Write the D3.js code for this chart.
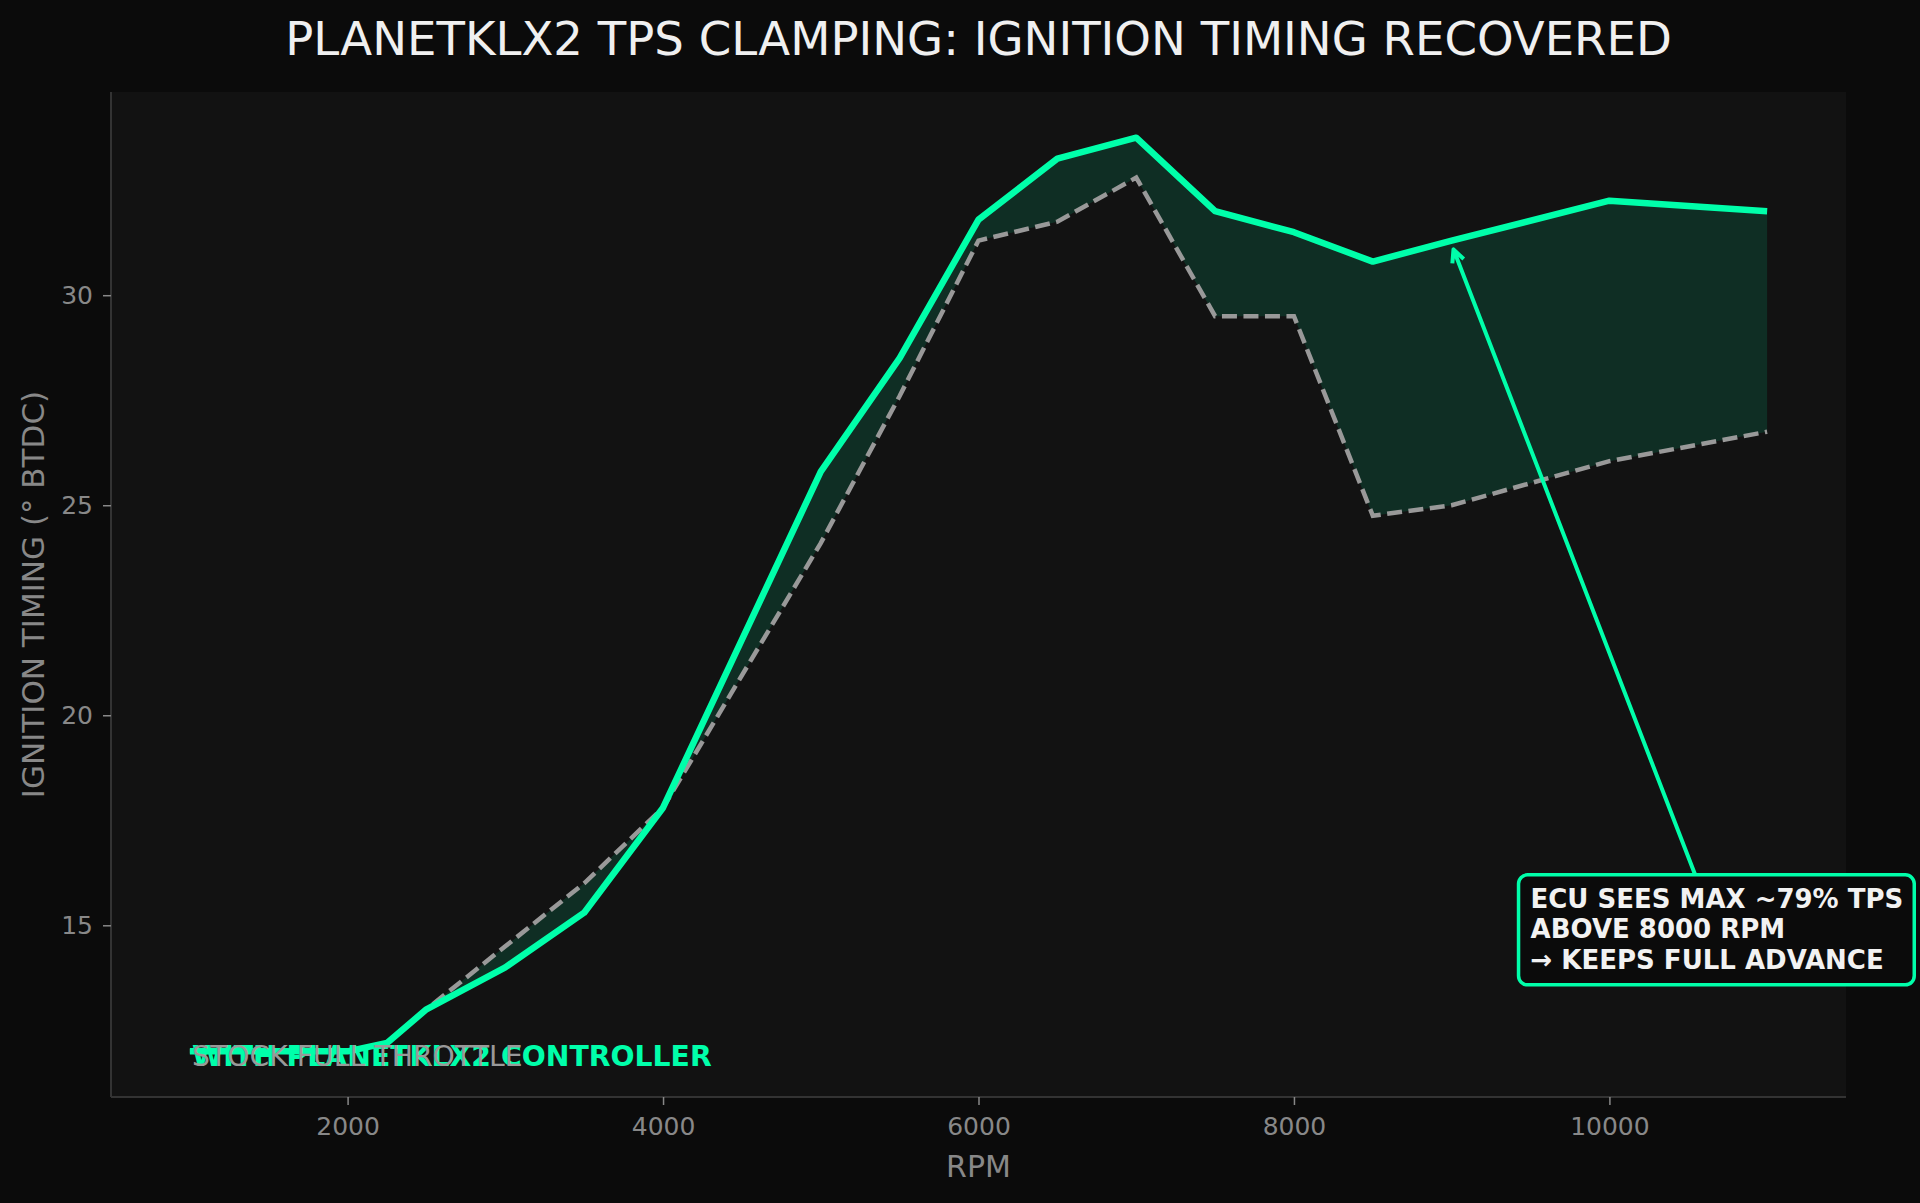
<!DOCTYPE html>
<html>
<head>
<meta charset="utf-8">
<script src="https://cdn.jsdelivr.net/npm/d3@7"></script>
<style>
  html, body { margin: 0; padding: 0; background: #0b0b0b; }
  svg { display: block; font-family: "DejaVu Sans", sans-serif; }
</style>
</head>
<body>
<div id="chart"></div>
<script>
// data
const rpm = [1000, 1500, 2000, 2250, 2500, 3000, 3500, 4000, 5000, 5500, 6000, 6500, 7000, 7500, 8000, 8500, 9000, 10000, 11000];
const withController = [12.0, 12.0, 12.0, 12.2, 13.0, 14.0, 15.3, 17.8, 25.8, 28.5, 31.8, 33.25, 33.75, 32.0, 31.5, 30.8, 31.3, 32.25, 32.0];
const stockTiming = [12.0, 12.0, 12.0, 12.2, 13.0, 14.5, 16.0, 17.8, 24.1, 27.6, 31.3, 31.75, 32.8, 29.5, 29.5, 24.75, 25.0, 26.05, 26.75];
const xTicks = [2000, 4000, 6000, 8000, 10000];
const yTicks = [15, 20, 25, 30];
const seriesLabels = ['WITH PLANETKLX2 CONTROLLER', 'STOCK FULL THROTTLE'];
const noteLines = ['ECU SEES MAX ~79% TPS', 'ABOVE 8000 RPM', '\u2192 KEEPS FULL ADVANCE'];
const noteTarget = [9000, 31.2];
const noteAnchor = [9500, 15];

const width = 1920;
const height = 1203;
const margin = { top: 92, right: 74, bottom: 106, left: 111 };
const green = '#00ffaa';
const grey = '#999999';

const svg = d3.select('#chart')
    .append('svg')
    .attr('width', width)
    .attr('height', height);

svg.append('rect')
    .attr('width', width)
    .attr('height', height)
    .attr('fill', '#0b0b0b');

// 5% padding on both axes, like the original
const xMin = d3.min(rpm), xMax = d3.max(rpm);
const xPad = (xMax - xMin) * 0.05;
const allY = withController.concat(stockTiming);
const yMin = d3.min(allY), yMax = d3.max(allY);
const yPad = (yMax - yMin) * 0.05;

const x = d3.scaleLinear()
    .domain([xMin - xPad, xMax + xPad])
    .range([margin.left, width - margin.right]);
const y = d3.scaleLinear()
    .domain([yMin - yPad, yMax + yPad])
    .range([height - margin.bottom, margin.top]);

// plot background
svg.append('rect')
    .attr('x', margin.left)
    .attr('y', margin.top)
    .attr('width', width - margin.left - margin.right)
    .attr('height', height - margin.top - margin.bottom)
    .attr('fill', '#121212');

const rows = rpm.map((r, i) => ({ rpm: r, plr: withController[i], stock: stockTiming[i] }));

// gap between the two curves
svg.append('path')
    .datum(rows)
    .attr('fill', green)
    .attr('fill-opacity', 0.12)
    .attr('d', d3.area()
        .x(d => x(d.rpm))
        .y0(d => y(d.stock))
        .y1(d => y(d.plr)));

svg.append('path')
    .datum(rows)
    .attr('fill', 'none')
    .attr('stroke', grey)
    .attr('stroke-width', 4.5)
    .attr('stroke-dasharray', '15 6.5')
    .attr('d', d3.line().x(d => x(d.rpm)).y(d => y(d.stock)));

svg.append('path')
    .datum(rows)
    .attr('fill', 'none')
    .attr('stroke', green)
    .attr('stroke-width', 6.5)
    .attr('stroke-linejoin', 'round')
    .attr('d', d3.line().x(d => x(d.rpm)).y(d => y(d.plr)));

// axes
const xAxis = svg.append('g')
    .attr('transform', `translate(0,${height - margin.bottom})`)
    .call(d3.axisBottom(x).tickValues(xTicks).tickSize(8).tickPadding(12).tickFormat(d3.format('d')));
const yAxis = svg.append('g')
    .attr('transform', `translate(${margin.left},0)`)
    .call(d3.axisLeft(y).tickValues(yTicks).tickSize(8).tickPadding(10).tickFormat(d3.format('d')));

[xAxis, yAxis].forEach(ax => {
    ax.select('.domain').attr('stroke', '#333').attr('stroke-width', 2);
    ax.selectAll('.tick line').attr('stroke', '#888').attr('stroke-width', 1.5);
    ax.selectAll('.tick text')
        .attr('fill', '#888')
        .style('font-family', '"DejaVu Sans", sans-serif')
        .style('font-size', '25px');
});
xAxis.select('.domain').attr('d', `M${margin.left},0H${width - margin.right}`);
yAxis.select('.domain').attr('d', `M0,${margin.top}V${height - margin.bottom}`);

// axis titles
svg.append('text')
    .attr('x', (margin.left + width - margin.right) / 2)
    .attr('y', 1177)
    .attr('text-anchor', 'middle')
    .attr('fill', '#888')
    .style('font-size', '30px')
    .text('RPM');

svg.append('text')
    .attr('transform', `translate(44,${(margin.top + height - margin.bottom) / 2}) rotate(-90)`)
    .attr('text-anchor', 'middle')
    .attr('fill', '#888')
    .style('font-size', '31px')
    .text('IGNITION TIMING (\u00b0 BTDC)');

// title
svg.append('text')
    .attr('x', (margin.left + width - margin.right) / 2)
    .attr('y', 55)
    .attr('text-anchor', 'middle')
    .attr('fill', '#f0f0f0')
    .style('font-size', '46.6px')
    .text('PLANETKLX2 TPS CLAMPING: IGNITION TIMING RECOVERED');

// legend labels (both sit on the same spot in the original)
svg.append('text')
    .attr('x', 192)
    .attr('y', 1066)
    .attr('fill', green)
    .style('font-size', '28.3px')
    .style('font-weight', 'bold')
    .text(seriesLabels[0]);
svg.append('text')
    .attr('x', 192)
    .attr('y', 1066)
    .attr('fill', grey)
    .style('font-size', '28.3px')
    .text(seriesLabels[1]);

// annotation box
const note = svg.append('g');
const lineGap = 30.5;
const noteX = x(noteAnchor[0]);
const noteMid = y(noteAnchor[1]) + 2;
const boxRect = note.append('rect');
const noteText = note.append('text')
    .attr('fill', '#f2f2f2')
    .style('font-size', '26px')
    .style('font-weight', 'bold');
noteLines.forEach((t, i) => {
    noteText.append('tspan')
        .attr('x', noteX)
        .attr('y', noteMid + 11 + (i - 1) * lineGap)
        .text(t);
});
const tb = noteText.node().getBBox();
const firstBase = noteMid + 11 - lineGap;
const lastBase = noteMid + 11 + lineGap;
const box = {
    x0: noteX - 12,
    x1: noteX + tb.width + 11,
    y0: firstBase - 19 - 14,
    y1: lastBase + 16
};
boxRect
    .attr('x', box.x0)
    .attr('y', box.y0)
    .attr('width', box.x1 - box.x0)
    .attr('height', box.y1 - box.y0)
    .attr('rx', 9)
    .attr('fill', '#0b0b0b')
    .attr('stroke', green)
    .attr('stroke-width', 3.5);

// arrow from the box toward the target point
const tipX = x(noteTarget[0]), tipY = y(noteTarget[1]);
const cx = (box.x0 + box.x1) / 2, cy = (box.y0 + box.y1) / 2;
const tStart = (box.y0 - cy) / (tipY - cy);
const startX = cx + (tipX - cx) * tStart, startY = box.y0;
const ang = Math.atan2(tipY - startY, tipX - startX);
const endX = tipX - Math.cos(ang) * 5, endY = tipY - Math.sin(ang) * 5;
const head = 14, spread = 0.45;
svg.append('path')
    .attr('fill', 'none')
    .attr('stroke', green)
    .attr('stroke-width', 4)
    .attr('stroke-linejoin', 'round')
    .attr('d', `M${startX},${startY}L${endX},${endY}` +
        `M${endX - head * Math.cos(ang - spread)},${endY - head * Math.sin(ang - spread)}` +
        `L${endX},${endY}` +
        `L${endX - head * Math.cos(ang + spread)},${endY - head * Math.sin(ang + spread)}`);
</script>
</body>
</html>
